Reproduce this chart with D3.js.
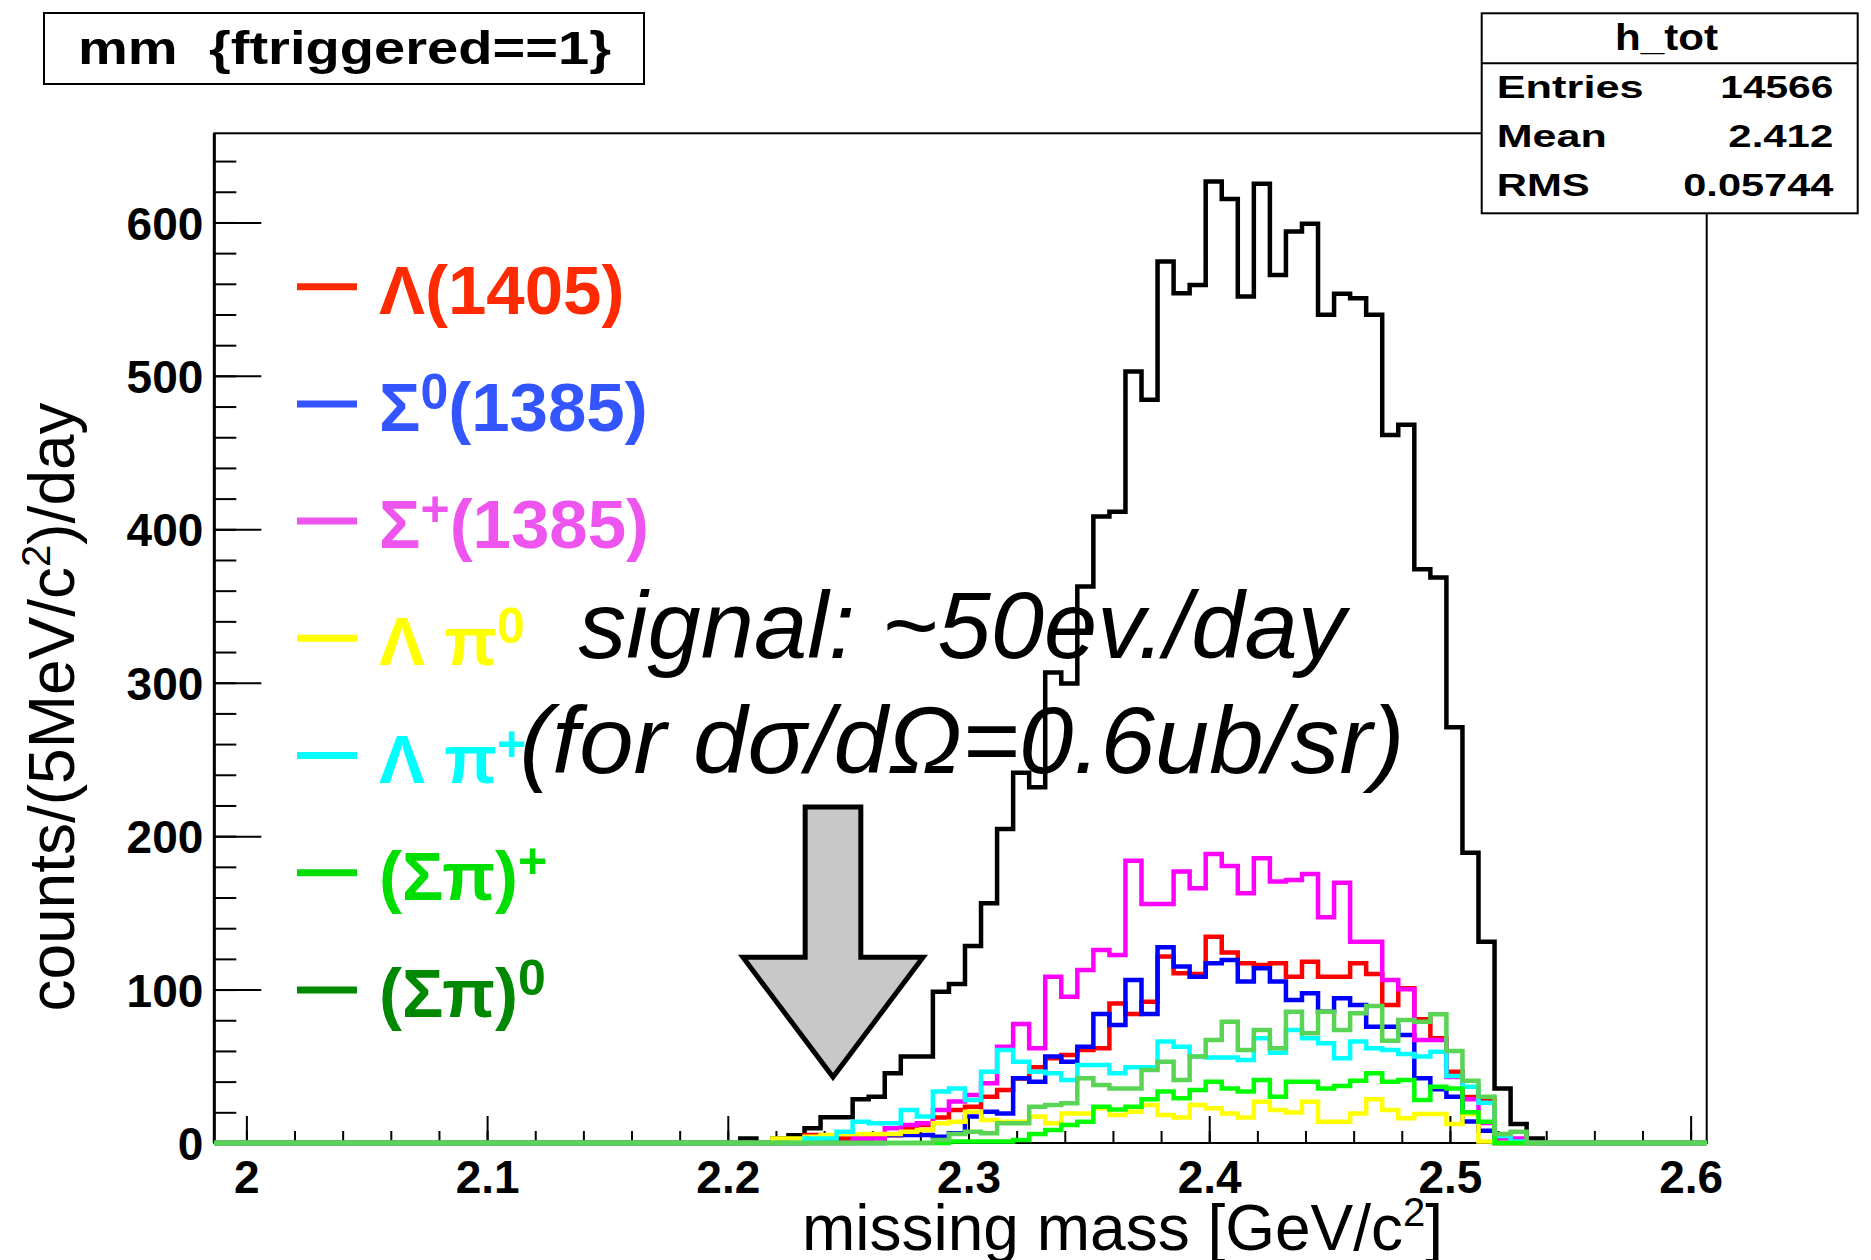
<!DOCTYPE html>
<html>
<head>
<meta charset="utf-8">
<script src="https://cdn.jsdelivr.net/npm/d3@7"></script>
<style>
  body { margin: 0; background: #fff; }
  svg { display: block; }
</style>
</head>
<body>
<script>
// binning of the histograms (GeV/c^2)
const binStart = 2.2052;
const binWidth = 1 / 150;

// counts per bin, first bin at binStart
const hTot = [3, 0, 3, 5, 9.6, 16.8, 16.8, 28.5, 30.2, 45.4,
  56.3, 56.3, 98.6, 103.7, 128.4, 156.3, 204.6, 241.4, 231.9, 306.6,
  299.5, 362.7, 408.3, 411.5, 502.8, 484.4, 574.5, 553.9, 559.3, 626.7,
  615.2, 551.7, 625.2, 565.8, 594.1, 599.1, 539.8, 553.5, 550.6, 539.8,
  461.5, 468.1, 374, 368.5, 271, 189.2, 131.2, 35.6, 12.4, 3];
const hLambda1405 = [0, 0, 0, 0, 5.2, 3, 3, 3, 4, 5,
  9.6, 11.7, 16.7, 21.5, 23.7, 30.2, 34.5, 42, 49.3, 55.2,
  57.4, 60.6, 61.7, 91, 84.1, 92.1, 121.5, 110.6, 110.2, 134.5,
  124.1, 117.1, 116, 117.1, 108.4, 118.2, 108.4, 108.4, 117.1, 110.2,
  90, 100.8, 80.6, 68.2, 46.5, 30, 28, 0, 0, 0];
const hSigma0 = [0, 0, 0, 0, 0, 0, 0, 0, 0, 5.2,
  5.2, 5.2, 4, 6.3, 17.2, 20.4, 19.3, 42.2, 40, 56.3,
  53, 62.8, 84.1, 76.9, 106.3, 84.1, 127.6, 115, 108.4, 117.1,
  119.3, 105.2, 113.9, 105.2, 93.2, 97.6, 85.6, 94.3, 90, 75.8,
  75.8, 70.4, 42.2, 35, 30.2, 14, 8, 0, 0, 0];
const hSigmaPlus = [0, 0, 0, 0, 0, 0, 0, 3, 3, 9.6,
  11.7, 12.8, 21.5, 27, 31.3, 38.9, 62.8, 77.6, 61.7, 108.4,
  95.4, 112.8, 125.8, 122.6, 184, 155.8, 155.8, 176.9, 166, 188.4,
  180.6, 162.8, 185.6, 170.4, 171.4, 175.4, 147.1, 169.7, 131.2, 131.2,
  106.3, 100.2, 67.1, 67.1, 43, 28.5, 13, 3, 3, 0];
const hLambdaPi0 = [0, 0, 3, 3, 4, 5.2, 5.9, 5.9, 5.9, 5.9,
  7.4, 8.5, 12.8, 13.9, 20.4, 15, 13.9, 13.9, 17.2, 12.8,
  19.3, 19.3, 22.6, 18.3, 20.4, 24.8, 18.3, 16.7, 24.8, 22.6,
  19.3, 16.7, 26.9, 21.5, 19.8, 26.9, 13.9, 13.9, 19.3, 28.5,
  21.5, 16.1, 18.9, 18.9, 12.4, 18.9, 1, 0, 0, 0];
const hLambdaPiPlus = [0, 0, 0, 0, 3, 3, 7.4, 13.9, 12.8, 12.8,
  21.5, 17.2, 33.5, 35.6, 28, 46.5, 60.6, 53, 46.5, 45.4,
  41.1, 50.8, 50.8, 45.4, 49.3, 49.3, 66.1, 62.8, 56.3, 55.8,
  55.8, 54.1, 68.2, 58.9, 73.7, 68.2, 65, 55.2, 66.1, 61.7,
  60.6, 58, 56.3, 59.5, 43.7, 36.7, 26.3, 4.6, 1, 0];
const hSigmaPiPlus = [0, 0, 0, 0, 0, 0, 0, 0, 0, 0,
  0, 0, 0, 1, 1, 1, 1, 2, 5.9, 8.5,
  11.7, 13.9, 23.7, 21.9, 23.7, 28.5, 33.5, 29.1, 34.6, 40,
  35.6, 33.5, 41.1, 30.2, 40, 40, 35.6, 37.2, 40.6, 45.4,
  40, 41.1, 28, 36.7, 35.6, 20, 13.9, 0, 0, 0];
const hSigmaPi0 = [0, 0, 0, 0, 0, 0, 0, 0, 0, 0,
  0, 0, 2, 5.9, 7.4, 6.3, 12.8, 12.8, 23.7, 24.8,
  25.9, 42.2, 37.8, 35.6, 35.6, 47.6, 53, 41.1, 56.3, 67.1,
  79.1, 60.6, 73.7, 61.7, 85.6, 71.5, 85.6, 73.7, 84.5, 89.3,
  66.7, 80.2, 79.1, 83.9, 60, 40.6, 30.2, 5.9, 7.4, 0];

// axis ranges and tick labels
const xMin = 1.98667, xMax = 2.60667, yMax = 658.1;
const xTickLabels = ['2', '2.1', '2.2', '2.3', '2.4', '2.5', '2.6'];
const yTickLabels = ['0', '100', '200', '300', '400', '500', '600'];

const statsRows = [['Entries', '14566'], ['Mean', '2.412'], ['RMS', '0.05744']];

const W = 1871, H = 1260;
const FONT = "'Liberation Sans', Arial, Helvetica, sans-serif";

const svg = d3.select('body').append('svg')
    .attr('width', W)
    .attr('height', H)
    .style('font-family', FONT);

const x = d3.scaleLinear().domain([xMin, xMax]).range([214.3, 1706.7]);
const y = d3.scaleLinear().domain([0, yMax]).range([1143, 133.3]);

// step outline like ROOT: baseline over the whole axis, then the bins
function histPoints(vals) {
  const pts = [[xMin, 0]];
  vals.forEach((v, i) => pts.push([binStart + i * binWidth, v]));
  pts.push([binStart + vals.length * binWidth, 0]);
  pts.push([xMax, 0]);
  return pts;
}
const line = d3.line()
    .x(d => x(d[0]))
    .y(d => y(d[1]))
    .curve(d3.curveStepAfter);

function drawHist(vals, color) {
  svg.append('path')
      .datum(histPoints(vals))
      .attr('d', line)
      .attr('fill', 'none')
      .attr('stroke', color)
      .attr('stroke-width', 4.5)
      .attr('stroke-linejoin', 'miter');
}

// frame
svg.append('rect')
    .attr('x', x.range()[0]).attr('y', y.range()[1])
    .attr('width', x.range()[1] - x.range()[0])
    .attr('height', y.range()[0] - y.range()[1])
    .attr('fill', 'none').attr('stroke', '#000').attr('stroke-width', 2);

drawHist(hTot, '#000');

// y axis
const yMinorTicks = d3.range(0, yMax, 20);
const gyMinor = svg.append('g')
    .attr('transform', `translate(${x.range()[0]},0)`)
    .call(d3.axisLeft(y).tickValues(yMinorTicks).tickSize(-22).tickFormat(''));
const gy = svg.append('g')
    .attr('transform', `translate(${x.range()[0]},0)`)
    .call(d3.axisLeft(y).tickValues(yTickLabels.map(Number))
        .tickSize(-47).tickPadding(11).tickFormat((d, i) => yTickLabels[i]));

// x axis
const xMinorTicks = d3.range(0, 31).map(i => 2 + i * 0.02);
const gxMinor = svg.append('g')
    .attr('transform', `translate(0,${y.range()[0]})`)
    .call(d3.axisBottom(x).tickValues(xMinorTicks).tickSize(-12).tickFormat(''));
const gx = svg.append('g')
    .attr('transform', `translate(0,${y.range()[0]})`)
    .call(d3.axisBottom(x).tickValues(xTickLabels.map(Number))
        .tickSize(-27).tickPadding(17).tickFormat((d, i) => xTickLabels[i]));

[gyMinor, gy, gxMinor, gx].forEach(g => {
  g.select('.domain').remove();
  g.attr('font-family', null).attr('font-size', null);
  g.selectAll('.tick line').attr('stroke', '#000').attr('stroke-width', 2);
  g.selectAll('.tick text')
      .attr('fill', '#000')
      .style('font-family', FONT)
      .style('font-size', '46px')
      .style('font-weight', 'bold');
});
gy.selectAll('.tick text').attr('dy', '0.36em');
svg.append('line')
    .attr('x1', x.range()[0]).attr('x2', x.range()[0])
    .attr('y1', y.range()[1]).attr('y2', y.range()[0])
    .attr('stroke', '#000').attr('stroke-width', 3);

// the other histograms on top
drawHist(hLambda1405, '#ff0000');
drawHist(hSigma0, '#0000ff');
drawHist(hSigmaPlus, '#ff00ff');
drawHist(hLambdaPi0, '#ffff00');
drawHist(hLambdaPiPlus, '#00ffff');
drawHist(hSigmaPiPlus, '#00ff00');
drawHist(hSigmaPi0, '#59d454');

// axis titles
const xTitle = svg.append('text')
    .attr('x', 802).attr('y', 1250)
    .attr('font-size', 64);
xTitle.append('tspan').text('missing mass [GeV/c');
xTitle.append('tspan').attr('font-size', 40).attr('dy', -24).text('2');
xTitle.append('tspan').attr('dy', 24).text(']');

const yTitle = svg.append('text')
    .attr('transform', 'translate(74,707) rotate(-90)')
    .attr('text-anchor', 'middle')
    .attr('font-size', 64);
yTitle.append('tspan').text('counts/(5MeV/c');
yTitle.append('tspan').attr('font-size', 40).attr('dy', -24).text('2');
yTitle.append('tspan').attr('dy', 24).text(')/day');

// title box
svg.append('rect')
    .attr('x', 44).attr('y', 13).attr('width', 600).attr('height', 71)
    .attr('fill', '#fff').attr('stroke', '#000').attr('stroke-width', 2);
svg.append('text')
    .attr('x', 78).attr('y', 64)
    .attr('font-size', 46).attr('font-weight', 'bold')
    .attr('textLength', 533).attr('lengthAdjust', 'spacingAndGlyphs')
    .style('white-space', 'pre')
    .text('mm  {ftriggered==1}');

// stats box
svg.append('rect')
    .attr('x', 1481.7).attr('y', 13.3).attr('width', 376).attr('height', 200)
    .attr('fill', '#fff').attr('stroke', '#000').attr('stroke-width', 2);
svg.append('line')
    .attr('x1', 1481.7).attr('x2', 1857.7).attr('y1', 63.3).attr('y2', 63.3)
    .attr('stroke', '#000').attr('stroke-width', 2);
svg.append('text')
    .attr('x', 1615).attr('y', 50)
    .attr('font-size', 37).attr('font-weight', 'bold')
    .attr('textLength', 103).attr('lengthAdjust', 'spacingAndGlyphs')
    .text('h_tot');
const labelW = [147, 110, 93];
const valueW = [113, 105, 150];
const rowBase = [98, 146.5, 196];
statsRows.forEach((r, i) => {
  svg.append('text')
      .attr('x', 1496.7).attr('y', rowBase[i])
      .attr('font-size', 31).attr('font-weight', 'bold')
      .attr('textLength', labelW[i]).attr('lengthAdjust', 'spacingAndGlyphs')
      .text(r[0]);
  svg.append('text')
      .attr('x', 1833.3 - valueW[i]).attr('y', rowBase[i])
      .attr('font-size', 31).attr('font-weight', 'bold')
      .attr('textLength', valueW[i]).attr('lengthAdjust', 'spacingAndGlyphs')
      .text(r[1]);
});

// legend (slide annotation)
const legendItems = [
  {color: '#ff2a00', parts: [['Λ(1405)', 0]]},
  {color: '#3355ff', parts: [['Σ', 0], ['0', 1], ['(1385)', 0]]},
  {color: '#ee55ee', parts: [['Σ', 0], ['+', 1], ['(1385)', 0]]},
  {color: '#ffff00', parts: [['Λ π', 0], ['0', 1]]},
  {color: '#00ffff', parts: [['Λ π', 0], ['+', 1]]},
  {color: '#00dd00', parts: [['(Σπ)', 0], ['+', 1]]},
  {color: '#008800', parts: [['(Σπ)', 0], ['0', 1]]}
];
legendItems.forEach((it, i) => {
  const ly = 286.7 + i * 117.2;
  svg.append('line')
      .attr('x1', 297).attr('x2', 357).attr('y1', ly).attr('y2', ly)
      .attr('stroke', it.color).attr('stroke-width', 7);
  const t = svg.append('text')
      .attr('x', 379).attr('y', ly + 27)
      .attr('font-size', 69).attr('font-weight', 'bold')
      .attr('fill', it.color)
      .style('white-space', 'pre');
  let raised = false;
  it.parts.forEach(p => {
    const ts = t.append('tspan').text(p[0]);
    if (p[1]) {
      ts.attr('font-size', 50).attr('dy', -22);
      raised = true;
    } else if (raised) {
      ts.attr('dy', 22);
      raised = false;
    }
  });
});

// arrow pointing at the signal region
const arrowX = 2.2437, arrowTip = 43, arrowHead = 121, arrowTop = 219;
const shaftHalf = 0.01156, headHalf = 0.0374;
const arrowPts = [
  [arrowX - shaftHalf, arrowTop], [arrowX + shaftHalf, arrowTop],
  [arrowX + shaftHalf, arrowHead], [arrowX + headHalf, arrowHead],
  [arrowX, arrowTip], [arrowX - headHalf, arrowHead],
  [arrowX - shaftHalf, arrowHead]
];
svg.append('path')
    .attr('d', d3.line().x(d => x(d[0])).y(d => y(d[1])).curve(d3.curveLinearClosed)(arrowPts))
    .attr('fill', '#c8c8c8').attr('stroke', '#000').attr('stroke-width', 5)
    .attr('stroke-linejoin', 'miter');

// signal note
const noteLines = [
  {text: 'signal: ~50ev./day', y: 658, w: 767},
  {text: '(for dσ/dΩ=0.6ub/sr)', y: 773, w: 885}
];
noteLines.forEach(n => {
  svg.append('text')
      .attr('x', 962 - n.w / 2).attr('y', n.y)
      .attr('font-size', 94).attr('font-style', 'italic')
      .attr('textLength', n.w).attr('lengthAdjust', 'spacingAndGlyphs')
      .text(n.text);
});
</script>
</body>
</html>
